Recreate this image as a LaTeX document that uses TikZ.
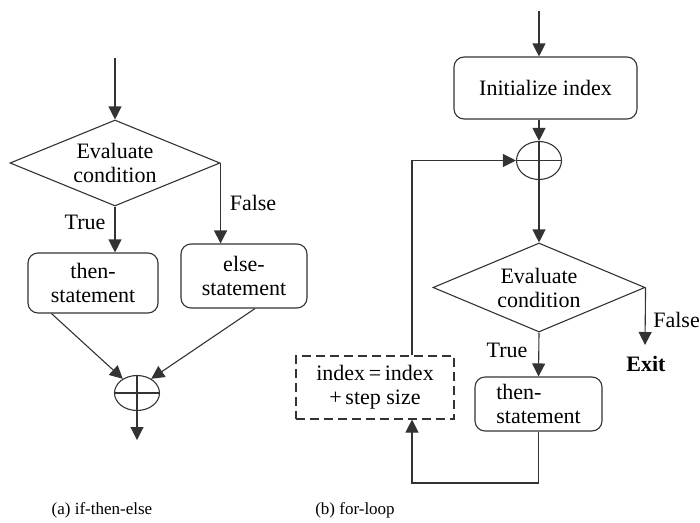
\documentclass[tikz,border=0pt]{standalone}
\usepackage{fontspec}
\setmainfont{Liberation Serif}
\usetikzlibrary{shapes.geometric,arrows.meta,calc}

\tikzset{
  line/.style={draw=black!80, line width=1.1pt},
  arr/.style={line, -{Triangle[length=13pt,width=13pt]}},
  stmt/.style={line, rounded corners=10pt, inner sep=0pt, align=center},
  cond/.style={line, diamond, shape aspect=2.5, inner sep=0pt, align=center},
  junction/.style={line, ellipse, inner sep=0pt},
  update/.style={line, dash pattern=on 9pt off 5pt, inner sep=0pt, align=center},
  lbl/.style={inner sep=0pt},
}
% cross inside a junction ellipse
\newcommand{\junctioncross}[1]{%
  \draw[line] (#1.west) -- (#1.east);
  \draw[line] (#1.north) -- (#1.south);}

\begin{document}
\begin{tikzpicture}[x=1pt,y=-1pt,font=\fontsize{22}{24}\selectfont]
\useasboundingbox (0,0) rectangle (700,522);

% ---------- (a) if-then-else ----------
\coordinate (inA) at (115,58);
\node[cond, minimum width=210pt, minimum height=86pt] (condA) at (115,163) {Evaluate\\condition};
\node[stmt, minimum width=130pt, minimum height=60pt] (thenA) at (93,283) {then-\\statement};
\node[stmt, minimum width=126pt, minimum height=64pt] (elseA) at (244,276) {else-\\statement};
\node[junction, minimum width=45pt, minimum height=35pt] (mergeA) at (137,393) {};
\junctioncross{mergeA}
\coordinate (outA) at (137,440);

\draw[arr] (inA) -- (condA.north);
\draw[arr] (condA.south) -- (condA.south |- thenA.north);
\draw[arr] (condA.east) -- (condA.east |- elseA.north);
\draw[arr] ($(thenA.south west)+(24,0)$) -- (mergeA.135);
\draw[arr] ($(elseA.south)+(11,0)$) -- (mergeA.45);
\draw[arr] (mergeA.south) -- (outA);

\node[lbl] (trueA) at (85,222) {True};
\node[lbl] (falseA) at (253,203) {False};

\node[lbl] (capA) at (102,510) {\fontsize{17}{20}\selectfont (a) if-then-else};

% ---------- (b) for-loop ----------
\coordinate (inB) at (539,11);
\node[stmt, minimum width=183pt, minimum height=62pt] (init) at (545.5,88) {Initialize index};
\node[junction, minimum width=45pt, minimum height=38pt] (mergeB) at (539,160.5) {};
\junctioncross{mergeB}
\node[cond, minimum width=212pt, minimum height=89pt] (condB) at (539,287.5) {Evaluate\\condition};
\node[stmt, align=left, minimum width=127pt, minimum height=54pt] (thenB) at (538.5,404) {then-\\statement};
\node[update, minimum width=158pt, minimum height=63pt] (upd) at (375,387.5) {index\,=\,index\\+\,step size};
\coordinate (exitpt) at (645,345);
\coordinate (loopb) at (412,483);

\draw[arr] (inB) -- (inB |- init.north);
\draw[arr] (mergeB.north |- init.south) -- (mergeB.north);
\draw[arr] (mergeB.south) -- (condB.north);
\draw[arr] (condB.south) -- (thenB.north);
\draw[arr] (condB.east) -- (exitpt);
\draw[arr] (thenB.south) |- (loopb) -- (loopb |- upd.south);
\draw[arr] (loopb |- upd.north) |- (mergeB.west);

\node[lbl] (trueB) at (507,350) {True};
\node[lbl, anchor=east] (falseB) at (700,320) {False};
\node[lbl, font=\fontsize{22}{24}\selectfont\bfseries] (exit) at (646,364) {Exit};

\node[lbl] (capB) at (355,510) {\fontsize{17}{20}\selectfont (b) for-loop};
\end{tikzpicture}
\end{document}
